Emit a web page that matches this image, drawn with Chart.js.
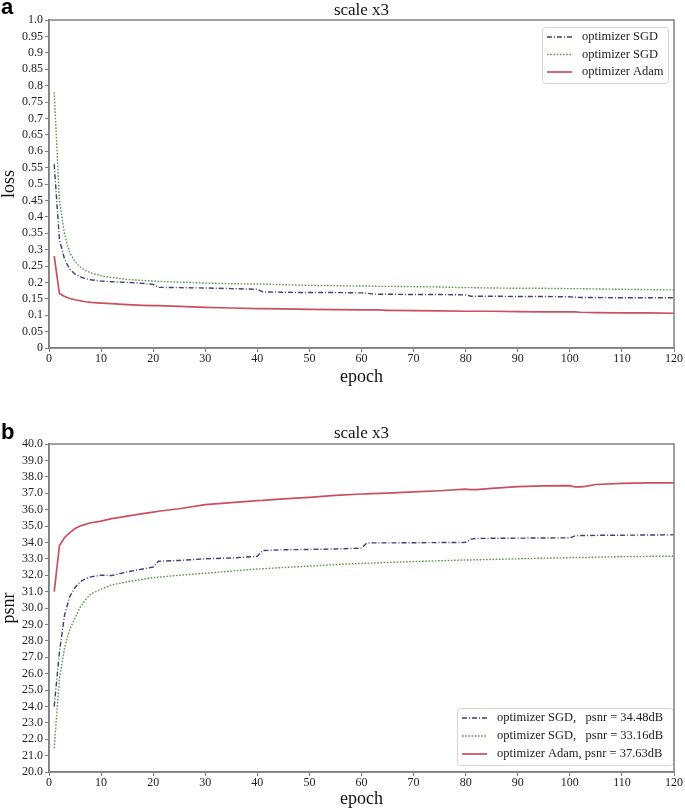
<!DOCTYPE html>
<html>
<head>
<meta charset="utf-8">
<script src="https://cdn.jsdelivr.net/npm/chart.js@4.4.0/dist/chart.umd.min.js"></script>
<style>
  body { margin: 0; background: #fff; }
  #pagina { position: relative; width: 685px; height: 810px; overflow: hidden; }
  canvas { position: absolute; left: 0; }
  .letra { position: absolute; left: 1px; font: bold 22px "Liberation Sans", Arial, sans-serif; line-height: 22px; color: #000; }
</style>
</head>
<body>
<div id="pagina">
  <canvas id="graficoLoss" width="685" height="388" style="top:0"></canvas>
  <canvas id="graficoPsnr" width="685" height="388" style="top:422px"></canvas>
  <div class="letra" style="top:-4px">a</div>
  <div class="letra" style="top:421px">b</div>
</div>
<script>
// datos (a) loss
let epocasA = [1, 2, 3, 4, 5, 6, 7, 8, 10, 12, 15, 18, 20, 21, 25, 30, 35, 40, 41, 45, 50, 55, 60, 61,
               62, 63, 65, 70, 75, 80, 81, 85, 90, 95, 100, 101, 102, 105, 110, 115, 120];
let lossSGD1 = [0.56, 0.33, 0.27, 0.24, 0.225, 0.217, 0.212, 0.208, 0.204, 0.202, 0.2, 0.197, 0.194, 0.185, 0.184, 0.183,
                0.181, 0.179, 0.171, 0.170, 0.169, 0.169, 0.168, 0.167, 0.165, 0.164, 0.164, 0.163, 0.163, 0.162, 0.158, 0.158,
                0.157, 0.157, 0.156, 0.155, 0.154, 0.154, 0.153, 0.153, 0.153];
let lossSGD2 = [0.78, 0.45, 0.345, 0.29, 0.263, 0.247, 0.236, 0.229, 0.220, 0.215, 0.209, 0.206, 0.204, 0.203, 0.201, 0.198,
                0.196, 0.195, 0.195, 0.193, 0.191, 0.190, 0.189, 0.189, 0.189, 0.188, 0.188, 0.187, 0.186, 0.184, 0.184, 0.183,
                0.182, 0.182, 0.181, 0.181, 0.181, 0.180, 0.179, 0.178, 0.177];
let lossAdam = [0.28, 0.166, 0.157, 0.151, 0.147, 0.144, 0.141, 0.139, 0.137, 0.135, 0.132, 0.130, 0.129, 0.129, 0.127, 0.124,
                0.122, 0.120, 0.120, 0.119, 0.118, 0.117, 0.116, 0.116, 0.116, 0.116, 0.115, 0.114, 0.113, 0.112, 0.112, 0.112,
                0.111, 0.110, 0.110, 0.110, 0.109, 0.108, 0.107, 0.107, 0.106];
let ticksLoss = ["0", "0.05", "0.1", "0.15", "0.2", "0.25", "0.3", "0.35", "0.4", "0.45", "0.5",
                 "0.55", "0.6", "0.65", "0.7", "0.75", "0.8", "0.85", "0.9", "0.95", "1.0"];
let etiquetasA = ["optimizer SGD", "optimizer SGD", "optimizer Adam"];

// datos (b) psnr
let epocasB = [1, 2, 3, 4, 5, 6, 7, 8, 10, 12, 13, 15, 18, 20, 21, 25, 30, 35, 40, 41, 45, 50, 55, 60,
               61, 62, 65, 70, 75, 80, 81, 82, 85, 90, 95, 100, 101, 102, 103, 105, 110, 115, 120];
let psnrSGD1 = [24.0, 27.3, 29.6, 30.7, 31.25, 31.6, 31.78, 31.9, 32.0, 31.98, 32.05, 32.2, 32.38, 32.5, 32.85, 32.9,
                33.0, 33.05, 33.15, 33.5, 33.55, 33.57, 33.6, 33.65, 33.95, 33.97, 33.97, 33.98, 33.99, 34.0, 34.2, 34.24,
                34.25, 34.26, 34.27, 34.28, 34.4, 34.42, 34.42, 34.43, 34.44, 34.45, 34.46];
let psnrSGD2 = [21.45, 25.7, 27.6, 28.7, 29.4, 30.05, 30.5, 30.85, 31.15, 31.4, 31.47, 31.6, 31.75, 31.85, 31.88, 32.0,
                32.12, 32.25, 32.38, 32.39, 32.47, 32.55, 32.65, 32.72, 32.73, 32.74, 32.78, 32.83, 32.88, 32.93, 32.93, 32.94,
                32.96, 33.0, 33.04, 33.07, 33.07, 33.08, 33.08, 33.1, 33.13, 33.15, 33.16];
let psnrAdam = [31.0, 33.8, 34.3, 34.6, 34.85, 35.0, 35.1, 35.2, 35.3, 35.45, 35.5, 35.6, 35.75, 35.85, 35.9, 36.05,
                36.3, 36.42, 36.55, 36.56, 36.65, 36.75, 36.87, 36.95, 36.96, 36.97, 37.0, 37.08, 37.15, 37.25, 37.22, 37.22,
                37.3, 37.4, 37.45, 37.46, 37.38, 37.38, 37.42, 37.53, 37.6, 37.63, 37.63];
let ticksPsnr = ["20.0", "21.0", "22.0", "23.0", "24.0", "25.0", "26.0", "27.0", "28.0", "29.0", "30.0",
                 "31.0", "32.0", "33.0", "34.0", "35.0", "36.0", "37.0", "38.0", "39.0", "40.0"];
let etiquetasB = ["optimizer SGD,   psnr = 34.48dB", "optimizer SGD,   psnr = 33.16dB", "optimizer Adam, psnr = 37.63dB"];

let ticksEpoca = ["0", "10", "20", "30", "40", "50", "60", "70", "80", "90", "100", "110", "120"];

Chart.defaults.font.family = '"Liberation Serif", "Times New Roman", serif';
Chart.defaults.color = "#222";

const GRIS = "#808080";
const estilos = [
    { borderColor: "#3e3e7c", borderWidth: 1.4, borderDash: [5, 2, 1, 2] },
    { borderColor: "#5a984a", borderWidth: 1.4, borderDash: [1.6, 1.6] },
    { borderColor: "#cc4f5e", borderWidth: 1.7, borderDash: [] }
];

// marco alrededor del area
const marco = {
    id: "marco",
    afterDraw(chart) {
        let a = chart.chartArea, ctx = chart.ctx;
        ctx.save();
        ctx.strokeStyle = GRIS;
        ctx.lineWidth = 1.5;
        ctx.strokeRect(a.left, a.top, a.right - a.left, a.bottom - a.top);
        ctx.restore();
    }
};

// leyenda con caja dentro del area
const leyendaCaja = {
    id: "leyendaCaja",
    afterDatasetsDraw(chart, args, op) {
        let ctx = chart.ctx, a = chart.chartArea;
        let x = a.right - op.derecha - op.ancho;
        let y = op.arriba != null ? a.top + op.arriba : a.bottom - op.abajo - op.alto;
        ctx.save();
        ctx.fillStyle = "#fff";
        ctx.strokeStyle = "#d4d4d4";
        ctx.lineWidth = 1;
        ctx.beginPath();
        ctx.roundRect(x + 0.5, y + 0.5, op.ancho, op.alto, 3);
        ctx.fill();
        ctx.stroke();
        chart.data.datasets.forEach((ds, i) => {
            let yy = y + op.primera + i * op.paso;
            ctx.strokeStyle = ds.borderColor;
            ctx.lineWidth = ds.borderWidth;
            ctx.setLineDash(ds.borderDash);
            ctx.beginPath();
            ctx.moveTo(x + 5, yy);
            ctx.lineTo(x + 30, yy);
            ctx.stroke();
            ctx.setLineDash([]);
            ctx.fillStyle = "#1a1a1a";
            ctx.font = '12.5px "Liberation Serif"';
            ctx.textBaseline = "middle";
            ctx.fillText(ds.label, x + 40, yy);
        });
        ctx.restore();
    }
};

function crearGrafico(id, cfg) {
    let datasets = cfg.series.map((s, i) => Object.assign({
        label: cfg.etiquetas[i],
        data: cfg.epocas.map((e, j) => ({ x: e, y: s[j] })),
        pointRadius: 0,
        tension: 0,
        fill: false
    }, estilos[i]));

    return new Chart(document.getElementById(id), {
        type: "line",
        data: { datasets: datasets },
        plugins: [marco, leyendaCaja],
        options: {
            responsive: false,
            animation: false,
            layout: { padding: { left: 0, right: 11, top: 0, bottom: 0 } },
            plugins: {
                legend: { display: false },
                tooltip: { enabled: false },
                leyendaCaja: cfg.leyenda
            },
            scales: {
                x: {
                    type: "linear", position: "bottom", min: 0, max: 120,
                    grid: { drawOnChartArea: false, drawTicks: true, tickLength: 4, color: GRIS },
                    border: { color: GRIS, width: 1.5 },
                    ticks: { stepSize: 10, autoSkip: false, maxRotation: 0, padding: 0,
                             font: { size: 12 }, callback: (v, i) => ticksEpoca[i] },
                    title: { display: true, text: "epoch", color: "#111", font: { size: 18 }, padding: 0 },
                    afterFit: s => { s.height = cfg.altoAbajo; }
                },
                xArriba: {
                    type: "linear", position: "top", min: 0, max: 120,
                    grid: { display: false }, border: { display: false },
                    ticks: { display: false },
                    title: { display: true, text: "scale x3", color: "#111", font: { size: 17 },
                             padding: { top: cfg.padTitulo, bottom: 0 } },
                    afterFit: s => { s.height = cfg.altoArriba; }
                },
                y: {
                    type: "linear", position: "left", min: cfg.min, max: cfg.max,
                    grid: { drawOnChartArea: false, drawTicks: true, tickLength: 4, color: GRIS },
                    border: { color: GRIS, width: 1.5 },
                    ticks: { stepSize: cfg.paso, autoSkip: false, padding: 2,
                             font: { size: 12 }, callback: (v, i) => cfg.ticks[i] },
                    title: { display: true, text: cfg.tituloY, color: "#111", font: { size: 18, lineHeight: 1 }, padding: 0 },
                    afterFit: s => { s.width = 49; }
                }
            }
        }
    });
}

crearGrafico("graficoLoss", {
    epocas: epocasA, series: [lossSGD1, lossSGD2, lossAdam], etiquetas: etiquetasA,
    min: 0, max: 1, paso: 0.05, ticks: ticksLoss, tituloY: "loss",
    altoArriba: 20, padTitulo: 0, altoAbajo: 40,
    leyenda: { derecha: 6, arriba: 7, ancho: 126, alto: 56, primera: 10, paso: 17.5 }
});

crearGrafico("graficoPsnr", {
    epocas: epocasB, series: [psnrSGD1, psnrSGD2, psnrAdam], etiquetas: etiquetasB,
    min: 20, max: 40, paso: 1, ticks: ticksPsnr, tituloY: "psnr",
    altoArriba: 22, padTitulo: 1, altoAbajo: 38,
    leyenda: { derecha: 1, abajo: 7, ancho: 216, alto: 57, primera: 10, paso: 18 }
});
</script>
</body>
</html>
